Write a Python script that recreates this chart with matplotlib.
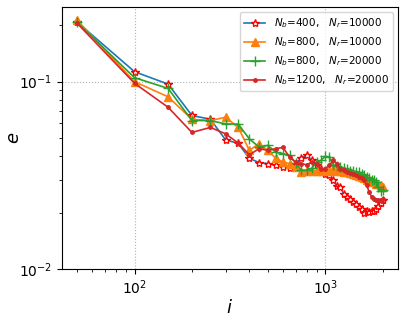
import numpy as np
import matplotlib
matplotlib.use("Agg")
import matplotlib.pyplot as plt

iters = list(range(50, 2001, 50))

e_nb400_nr10000 = [0.208, 0.113, 0.097, 0.066, 0.063, 0.049, 0.0468, 0.039, 0.037, 0.0365,
                   0.0358, 0.0352, 0.0345, 0.0365, 0.0393, 0.0404, 0.038, 0.036, 0.034, 0.0322,
                   0.0318, 0.030, 0.0278, 0.0273, 0.0252, 0.0243, 0.0238, 0.0228, 0.0222, 0.0215,
                   0.0208, 0.0200, 0.0203, 0.0201, 0.0203, 0.0205, 0.021, 0.0216, 0.0225, 0.0233]
e_nb800_nr10000 = [0.213, 0.100, 0.083, 0.063, 0.062, 0.0646, 0.057, 0.043, 0.0467, 0.043,
                   0.039, 0.0373, 0.0365, 0.035, 0.033, 0.0335, 0.0335, 0.0335, 0.0335, 0.0337,
                   0.0335, 0.034, 0.0335, 0.0335, 0.033, 0.0328, 0.0325, 0.032, 0.0318, 0.0315,
                   0.031, 0.0308, 0.030, 0.0298, 0.0295, 0.029, 0.0285, 0.0285, 0.028, 0.0275]
e_nb800_nr20000 = [0.207, 0.105, 0.092, 0.062, 0.062, 0.0595, 0.0593, 0.0495, 0.0448, 0.0457,
                   0.042, 0.0413, 0.0404, 0.0368, 0.0337, 0.0337, 0.0345, 0.0373, 0.038, 0.040,
                   0.0395, 0.036, 0.0355, 0.035, 0.0345, 0.034, 0.0335, 0.0335, 0.033, 0.0328,
                   0.032, 0.0318, 0.031, 0.0305, 0.030, 0.0298, 0.029, 0.0275, 0.0262, 0.0265]
e_nb1200_nr20000 = [0.205, 0.098, 0.073, 0.0536, 0.057, 0.0527, 0.047, 0.0407, 0.0439, 0.043,
                    0.0439, 0.0446, 0.0396, 0.0373, 0.0365, 0.036, 0.0373, 0.0365, 0.0343, 0.0343,
                    0.0358, 0.038, 0.0365, 0.0343, 0.0337, 0.0331, 0.0324, 0.032, 0.0316, 0.031,
                    0.0305, 0.0298, 0.028, 0.0258, 0.0243, 0.0238, 0.0233, 0.0233, 0.0235, 0.0238]

labels = [r'$N_b$=400,   $N_r$=10000',
          r'$N_b$=800,   $N_r$=10000',
          r'$N_b$=800,   $N_r$=20000',
          r'$N_b$=1200,   $N_r$=20000']

fig = plt.figure(figsize=(4.04, 3.2), dpi=100)
ax = fig.add_axes([0.153, 0.159, 0.832, 0.819])

ax.plot(iters, e_nb400_nr10000, color='#1f77b4', lw=1.2, marker='*', ms=6,
        mfc='white', mec='red', mew=1.0, label=labels[0])
ax.plot(iters, e_nb800_nr10000, color='#ff7f0e', lw=1.2, marker='^', ms=6,
        label=labels[1])
ax.plot(iters, e_nb800_nr20000, color='#2ca02c', lw=1.2, marker='+', ms=7,
        label=labels[2])
ax.plot(iters, e_nb1200_nr20000, color='#d62728', lw=1.2, marker='.', ms=5,
        label=labels[3])

ax.set_xscale('log')
ax.set_yscale('log')
ax.set_ylim(0.01, 0.25)
ax.grid(True, which='major', linestyle=':', color='#b0b0b0', lw=0.8)
ax.set_xlabel(r'$i$', fontsize=13, labelpad=1)
ax.set_ylabel(r'$e$', fontsize=13, labelpad=-3)
ax.tick_params(labelsize=10)
ax.legend(loc='upper right', fontsize=7.5, handlelength=2.0)

fig.savefig('out.png', dpi=100)
